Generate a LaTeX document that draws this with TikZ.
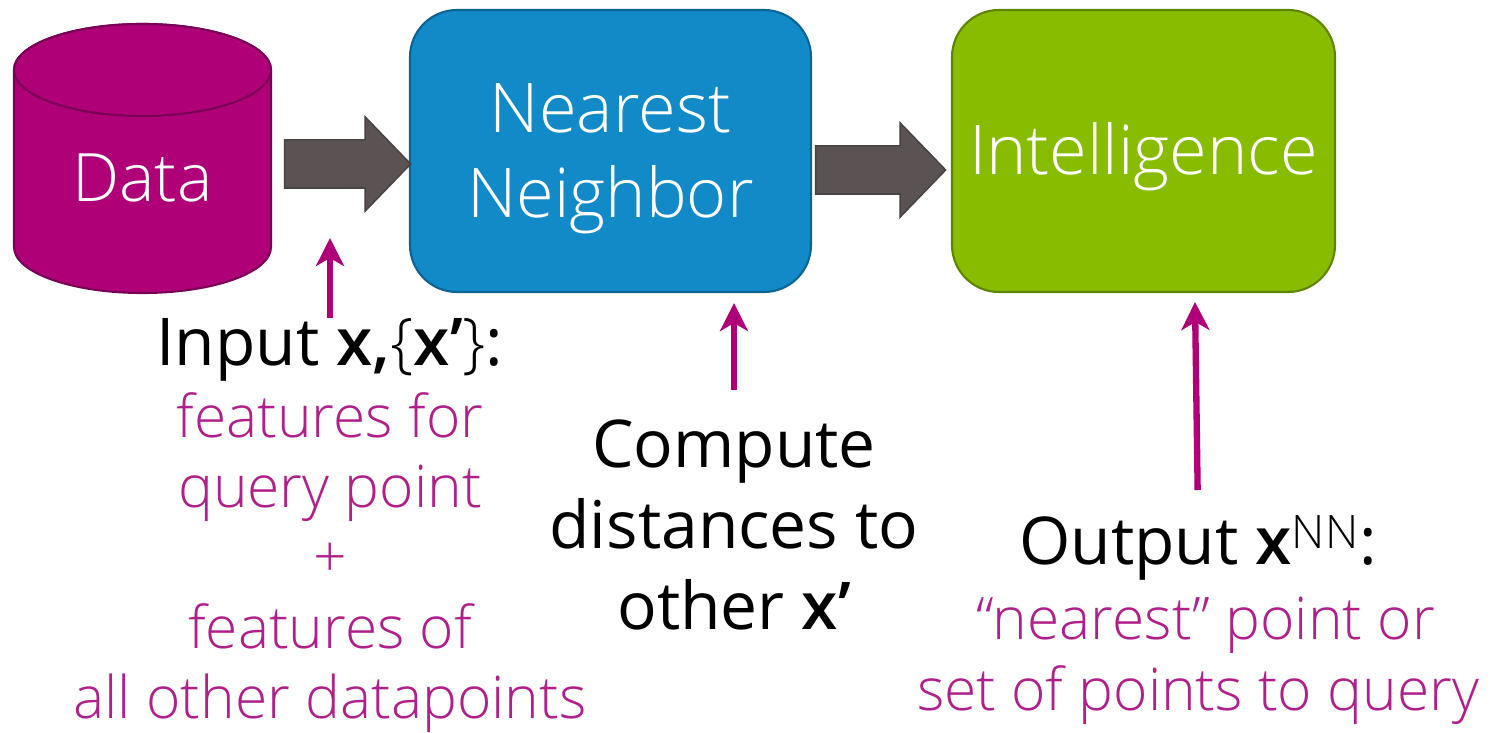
\documentclass[tikz,border=0pt]{standalone}
\usepackage{fontspec}
\setmainfont{Open Sans Light}[BoldFont={Open Sans Semibold}]
\newfontfamily\headfont{Open Sans}[BoldFont={Open Sans Semibold}]
\usetikzlibrary{arrows.meta}
\usetikzlibrary{positioning}
\usetikzlibrary{shapes.arrows}
\definecolor{plum}{HTML}{AF0078}
\definecolor{plumline}{HTML}{7A0055}
\definecolor{plumtext}{HTML}{B0208A}
\definecolor{sky}{HTML}{128AC8}
\definecolor{skyline}{HTML}{0D6490}
\definecolor{leaf}{HTML}{87BC00}
\definecolor{leafline}{HTML}{5F8400}
\definecolor{slate}{HTML}{5B5353}
\definecolor{slateline}{HTML}{474141}

\begin{document}
\begin{tikzpicture}
    [block/.style={rectangle,rounded corners=.94cm,line width=1.2pt,inner sep=0pt},
    blocktext/.style={inner sep=0pt,text=white,align=center,font=\fontsize{39}{48.2}\selectfont},
    store/.style={draw=plumline,fill=plum,line width=1.2pt},
    bigarrow/.style={single arrow,draw=slateline,fill=slate,line width=.8pt,inner xsep=0pt,
      inner ysep=.47cm,single arrow head extend=.46cm,single arrow tip angle=92,
      single arrow head indent=0pt},
    heading/.style={inner sep=0pt,align=center,text=black,
      font=\headfont\fontsize{37.5}{46.2}\selectfont},
    note/.style={inner sep=0pt,align=center,text=plumtext,
      font=\fontsize{33.4}{40.4}\selectfont},
    pointer/.style={draw=plum,line width=3.6pt,
      -{Stealth[length=.56cm,width=.56cm,inset=.16cm]}}]

    \useasboundingbox (0,0) rectangle (29.92,14.66);

    \draw[store] (.28,13.26) -- (.28,9.72) arc[start angle=180,end angle=360,x radius=2.57,y radius=.92]
      -- (5.42,13.26) arc[start angle=0,end angle=180,x radius=2.57,y radius=.92] -- cycle;
    \draw[store] (2.85,13.26) ellipse [x radius=2.57,y radius=.92];
    \node[blocktext,anchor=base] (data label) at (2.85,10.62) {\fontsize{38}{48}\selectfont Data};

    \node[block,draw=skyline,fill=sky,minimum width=8.02cm,minimum height=5.64cm]
                      (nearest)   at (12.21,11.64) {};
    \node[blocktext]  (nearest label) at ([yshift=-.15cm]nearest.center) {Nearest\\Neighbor};

    \node[block,draw=leafline,fill=leaf,minimum width=7.66cm,minimum height=5.64cm]
                      (intel)     at (22.87,11.64) {};
    \node[blocktext]  (intel label) at ([yshift=-.12cm]intel.center) {Intelligence};

    \node[bigarrow,minimum height=2.52cm] (arrow one) at (6.72,11.38) {};

    \node[bigarrow,minimum height=2.6cm]  (arrow two) at (17.38,11.26) {};

    \node[heading,anchor=north] (input)   at (6.6,8.3)
      {Input \textbf{x,}{\normalfont\{}\textbf{x’}{\normalfont\}}:};

    \node[note,anchor=north,font=\fontsize{33.4}{40}\selectfont] (input note) at (6.6,6.82)
      {features for\\query point\\+\\features of\\all other datapoints};

    \node[heading,anchor=north] (compute) at (14.68,6.28)
      {Compute\\distances to\\other \textbf{x’}};

    \node[heading,anchor=north] (output)  at (23.96,4.36)
      {Output \textbf{x}\textsuperscript{\normalfont NN}:};

    \node[note,anchor=north]    (output note) at (23.96,2.72)
      {\hspace*{.32cm}“nearest” point or\\set of points to query};

    \coordinate (data tip) at (6.6,9.9);
    \coordinate (intel tip) at (23.9,8.62);

    \draw[pointer] (input.north) -- (data tip);
    \draw[pointer,shorten >=.2cm,shorten <=.58cm] (compute.north) -- (compute.north |- nearest.south);
    \draw[pointer,shorten <=.5cm] (output.north) -- (intel tip);
\end{tikzpicture}
\end{document}
